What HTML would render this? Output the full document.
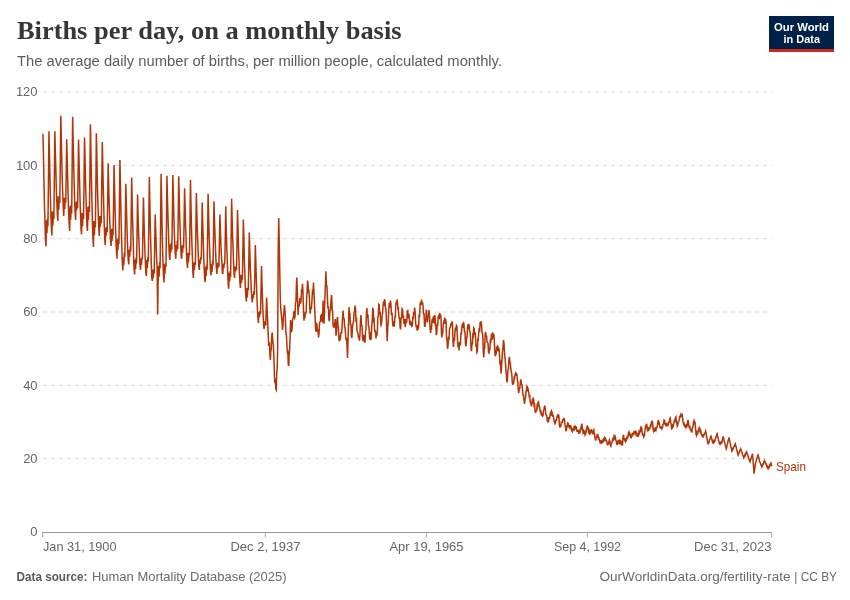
<!DOCTYPE html>
<html lang="en"><head><meta charset="utf-8"><title>Births per day, on a monthly basis</title>
<style>html,body{margin:0;padding:0;background:#fff}body{width:850px;height:600px;position:relative;overflow:hidden}</style></head>
<body>
<svg width="850" height="600" viewBox="0 0 850 600" style="display:block;position:absolute;left:0;top:0">
<rect width="850" height="600" fill="#fff"/>
<text x="17" y="38.6" font-family="'Liberation Serif', serif" font-weight="700" font-size="24.5" fill="#363636" textLength="384.5" lengthAdjust="spacingAndGlyphs">Births per day, on a monthly basis</text>
<text x="17" y="66.3" font-family="'Liberation Sans', sans-serif" font-size="14" fill="#5b5b5b" textLength="485" lengthAdjust="spacingAndGlyphs">The average daily number of births, per million people, calculated monthly.</text>
<rect x="769" y="16" width="65" height="36" fill="#002147"/>
<rect x="769" y="49" width="65" height="3" fill="#ce261e"/>
<text x="801.5" y="30.5" text-anchor="middle" font-family="'Liberation Sans', sans-serif" font-weight="700" font-size="11.5" fill="#fff" textLength="55" lengthAdjust="spacingAndGlyphs">Our World</text>
<text x="801.8" y="42.5" text-anchor="middle" font-family="'Liberation Sans', sans-serif" font-weight="700" font-size="11.5" fill="#fff" textLength="36.5" lengthAdjust="spacingAndGlyphs">in Data</text>
<line x1="43" x2="772" y1="458.67" y2="458.67" stroke="#d9d9d9" stroke-width="1" stroke-dasharray="4,4"/>
<line x1="43" x2="772" y1="385.33" y2="385.33" stroke="#d9d9d9" stroke-width="1" stroke-dasharray="4,4"/>
<line x1="43" x2="772" y1="312.00" y2="312.00" stroke="#d9d9d9" stroke-width="1" stroke-dasharray="4,4"/>
<line x1="43" x2="772" y1="238.67" y2="238.67" stroke="#d9d9d9" stroke-width="1" stroke-dasharray="4,4"/>
<line x1="43" x2="772" y1="165.33" y2="165.33" stroke="#d9d9d9" stroke-width="1" stroke-dasharray="4,4"/>
<line x1="43" x2="772" y1="92.00" y2="92.00" stroke="#d9d9d9" stroke-width="1" stroke-dasharray="4,4"/>
<text x="37.6" y="536.4" text-anchor="end" font-family="'Liberation Sans', sans-serif" font-size="13" fill="#666">0</text>
<text x="37.6" y="463.1" text-anchor="end" font-family="'Liberation Sans', sans-serif" font-size="13" fill="#666">20</text>
<text x="37.6" y="389.7" text-anchor="end" font-family="'Liberation Sans', sans-serif" font-size="13" fill="#666">40</text>
<text x="37.6" y="316.4" text-anchor="end" font-family="'Liberation Sans', sans-serif" font-size="13" fill="#666">60</text>
<text x="37.6" y="243.1" text-anchor="end" font-family="'Liberation Sans', sans-serif" font-size="13" fill="#666">80</text>
<text x="37.6" y="169.7" text-anchor="end" font-family="'Liberation Sans', sans-serif" font-size="13" fill="#666">100</text>
<text x="37.6" y="96.4" text-anchor="end" font-family="'Liberation Sans', sans-serif" font-size="13" fill="#666">120</text>
<line x1="42" x2="772" y1="532.5" y2="532.5" stroke="#999" stroke-width="1"/>
<line x1="42.7" x2="42.7" y1="532.5" y2="537.5" stroke="#a8a8a8" stroke-width="1"/>
<line x1="265.3" x2="265.3" y1="532.5" y2="537.5" stroke="#a8a8a8" stroke-width="1"/>
<line x1="426.3" x2="426.3" y1="532.5" y2="537.5" stroke="#a8a8a8" stroke-width="1"/>
<line x1="587.3" x2="587.3" y1="532.5" y2="537.5" stroke="#a8a8a8" stroke-width="1"/>
<line x1="771.6" x2="771.6" y1="532.5" y2="537.5" stroke="#a8a8a8" stroke-width="1"/>
<text x="43" y="550.5" text-anchor="start" font-family="'Liberation Sans', sans-serif" font-size="13" fill="#666" textLength="73.5" lengthAdjust="spacingAndGlyphs">Jan 31, 1900</text>
<text x="265.5" y="550.5" text-anchor="middle" font-family="'Liberation Sans', sans-serif" font-size="13" fill="#666" textLength="70" lengthAdjust="spacingAndGlyphs">Dec 2, 1937</text>
<text x="426.5" y="550.5" text-anchor="middle" font-family="'Liberation Sans', sans-serif" font-size="13" fill="#666" textLength="74" lengthAdjust="spacingAndGlyphs">Apr 19, 1965</text>
<text x="587.5" y="550.5" text-anchor="middle" font-family="'Liberation Sans', sans-serif" font-size="13" fill="#666" textLength="67" lengthAdjust="spacingAndGlyphs">Sep 4, 1992</text>
<text x="771.5" y="550.5" text-anchor="end" font-family="'Liberation Sans', sans-serif" font-size="13" fill="#666" textLength="77.5" lengthAdjust="spacingAndGlyphs">Dec 31, 2023</text>
<path d="M43.00,133.75 L43.49,157.85 L43.99,181.96 L44.48,206.51 L44.98,222.24 L45.47,239.88 L45.96,246.50 L46.46,220.61 L46.95,233.21 L47.45,218.87 L47.94,226.21 L48.43,182.85 L48.93,131.25 L49.42,152.46 L49.92,175.48 L50.41,197.67 L50.91,215.96 L51.40,227.74 L51.89,235.50 L52.39,211.46 L52.88,225.58 L53.38,212.27 L53.87,219.13 L54.36,177.75 L54.86,131.25 L55.35,152.90 L55.85,168.93 L56.34,190.12 L56.83,202.21 L57.33,214.19 L57.82,221.00 L58.32,196.32 L58.81,209.71 L59.30,197.00 L59.80,202.88 L60.29,163.44 L60.79,115.75 L61.28,138.36 L61.78,159.35 L62.27,180.10 L62.76,194.20 L63.26,208.22 L63.75,216.00 L64.25,197.94 L64.74,209.05 L65.23,197.29 L65.73,202.98 L66.22,174.13 L66.72,139.25 L67.21,159.25 L67.70,178.82 L68.20,199.15 L68.69,213.45 L69.19,224.47 L69.68,231.00 L70.17,206.16 L70.67,219.68 L71.16,205.08 L71.66,213.64 L72.15,167.31 L72.64,116.75 L73.14,141.39 L73.63,160.65 L74.13,182.50 L74.62,200.38 L75.12,212.41 L75.61,220.00 L76.10,202.25 L76.60,210.11 L77.09,201.35 L77.59,208.18 L78.08,176.02 L78.57,139.50 L79.07,161.90 L79.56,180.55 L80.06,201.08 L80.55,215.88 L81.04,229.12 L81.54,234.50 L82.03,212.98 L82.53,226.16 L83.02,213.00 L83.51,218.88 L84.01,181.81 L84.50,137.50 L85.00,156.31 L85.49,179.45 L85.99,197.93 L86.48,214.27 L86.97,226.68 L87.47,231.00 L87.96,206.65 L88.46,219.87 L88.95,206.05 L89.44,212.01 L89.94,172.13 L90.43,124.25 L90.93,149.93 L91.42,176.73 L91.91,201.05 L92.41,223.52 L92.90,238.15 L93.40,247.00 L93.89,220.97 L94.38,235.19 L94.88,221.19 L95.37,227.12 L95.87,184.23 L96.36,133.25 L96.86,156.46 L97.35,180.61 L97.84,200.70 L98.34,217.32 L98.83,229.15 L99.33,236.00 L99.82,215.92 L100.31,226.60 L100.81,215.92 L101.30,223.17 L101.80,182.90 L102.29,142.00 L102.78,164.19 L103.27,187.48 L103.76,207.68 L104.25,225.16 L104.74,239.59 L105.23,245.00 L105.72,227.70 L106.21,235.82 L106.70,226.69 L107.19,232.05 L107.68,200.30 L108.17,163.25 L108.66,184.26 L109.15,201.91 L109.64,217.26 L110.13,230.91 L110.62,242.24 L111.11,246.00 L111.60,228.83 L112.09,240.96 L112.58,230.11 L113.07,235.51 L113.56,202.64 L114.05,165.00 L114.54,186.69 L115.03,208.10 L115.52,224.91 L116.01,242.04 L116.50,252.12 L116.99,258.75 L117.48,239.24 L117.97,250.08 L118.46,237.65 L118.95,243.89 L119.44,202.65 L119.93,160.00 L120.42,184.52 L120.91,210.54 L121.40,231.34 L121.89,250.06 L122.38,263.08 L122.87,270.50 L123.36,257.25 L123.85,264.88 L124.34,252.61 L124.83,257.36 L125.32,222.18 L125.81,183.75 L126.30,202.59 L126.79,220.19 L127.28,238.44 L127.77,251.94 L128.26,260.33 L128.75,264.50 L129.24,249.65 L129.73,256.75 L130.22,246.38 L130.71,251.69 L131.20,215.71 L131.69,177.50 L132.17,202.10 L132.66,221.74 L133.15,239.61 L133.64,258.84 L134.13,269.76 L134.62,274.50 L135.11,259.49 L135.60,269.07 L136.09,257.41 L136.58,263.41 L137.07,232.41 L137.56,194.50 L138.05,214.07 L138.54,230.77 L139.03,243.37 L139.52,255.88 L140.01,264.89 L140.50,270.00 L140.99,258.76 L141.48,265.06 L141.97,257.34 L142.46,259.17 L142.95,229.02 L143.44,197.50 L143.93,217.59 L144.42,236.33 L144.91,250.72 L145.40,263.09 L145.89,273.35 L146.38,276.00 L146.87,260.13 L147.36,267.98 L147.85,257.26 L148.34,261.56 L148.83,219.67 L149.32,177.00 L149.81,200.07 L150.30,225.00 L150.79,244.68 L151.28,263.05 L151.77,277.63 L152.26,281.00 L152.75,269.48 L153.24,278.09 L153.73,270.32 L154.22,273.51 L154.71,243.88 L155.20,214.50 L155.69,229.82 L156.18,245.60 L156.67,258.50 L157.16,269.49 L157.65,314.50 L158.14,283.00 L158.63,266.03 L159.12,276.71 L159.61,262.16 L160.10,268.32 L160.59,224.11 L161.08,173.75 L161.57,198.19 L162.06,225.50 L162.55,247.16 L163.04,264.05 L163.53,278.06 L164.02,282.50 L164.51,264.26 L165.00,273.74 L165.49,263.37 L165.98,266.89 L166.47,224.99 L166.96,175.75 L167.45,197.86 L167.94,214.93 L168.43,230.96 L168.92,246.62 L169.41,256.69 L169.90,260.00 L170.39,244.23 L170.88,252.56 L171.37,242.45 L171.86,249.72 L172.35,214.48 L172.84,175.00 L173.33,193.68 L173.82,215.67 L174.31,232.20 L174.80,244.30 L175.29,253.96 L175.78,258.75 L176.27,244.92 L176.76,251.50 L177.25,241.13 L177.74,249.08 L178.23,213.97 L178.72,176.25 L179.21,196.16 L179.70,216.76 L180.19,230.44 L180.68,245.39 L181.17,255.93 L181.66,258.75 L182.15,245.61 L182.64,252.82 L183.13,244.53 L183.62,247.84 L184.11,220.32 L184.60,188.25 L185.09,206.43 L185.58,225.41 L186.07,239.41 L186.56,255.29 L187.05,263.43 L187.54,268.00 L188.03,252.87 L188.52,262.17 L189.01,252.90 L189.50,255.36 L189.99,221.27 L190.47,180.00 L190.96,203.53 L191.45,226.19 L191.94,244.77 L192.43,258.43 L192.92,272.86 L193.41,278.00 L193.90,262.28 L194.39,270.07 L194.88,263.05 L195.37,264.79 L195.86,231.14 L196.35,193.00 L196.84,212.38 L197.33,229.42 L197.82,243.12 L198.31,256.21 L198.80,266.37 L199.29,270.00 L199.78,259.66 L200.27,263.70 L200.76,257.42 L201.25,259.54 L201.74,231.98 L202.23,202.50 L202.72,222.67 L203.21,239.90 L203.70,255.22 L204.19,268.73 L204.68,279.67 L205.17,282.00 L205.66,266.77 L206.15,276.27 L206.64,265.25 L207.13,269.69 L207.62,234.23 L208.11,193.75 L208.60,213.18 L209.09,232.31 L209.58,247.62 L210.07,262.55 L210.56,272.21 L211.05,275.50 L211.54,264.38 L212.03,272.07 L212.52,260.43 L213.01,265.34 L213.50,236.44 L213.99,201.25 L214.48,220.07 L214.97,233.99 L215.46,247.75 L215.95,260.67 L216.44,268.65 L216.93,274.00 L217.42,262.85 L217.91,268.13 L218.40,263.37 L218.89,266.81 L219.38,242.86 L219.87,214.50 L220.36,227.40 L220.85,243.33 L221.34,254.41 L221.83,261.86 L222.32,272.56 L222.81,274.00 L223.30,264.35 L223.79,268.14 L224.28,262.94 L224.77,264.11 L225.26,236.69 L225.75,206.25 L226.24,228.01 L226.73,246.35 L227.22,259.35 L227.71,273.63 L228.20,284.69 L228.69,288.75 L229.18,272.81 L229.67,281.23 L230.16,270.92 L230.65,277.04 L231.14,237.33 L231.63,198.75 L232.12,217.99 L232.61,235.76 L233.10,249.13 L233.59,263.06 L234.08,274.53 L234.57,278.00 L235.06,266.49 L235.55,271.50 L236.04,267.02 L236.53,269.63 L237.02,242.49 L237.51,210.00 L238.00,227.14 L238.49,245.72 L238.98,259.64 L239.47,275.08 L239.96,283.18 L240.45,288.00 L240.94,274.87 L241.43,282.89 L241.92,276.63 L242.41,279.69 L242.90,249.36 L243.39,219.50 L243.88,237.78 L244.37,259.72 L244.86,273.90 L245.35,287.54 L245.84,295.76 L246.33,301.50 L246.82,288.00 L247.31,297.42 L247.80,288.09 L248.29,290.13 L248.78,265.30 L249.26,232.50 L249.77,249.84 L250.28,266.61 L250.78,277.03 L251.29,291.32 L251.80,297.27 L252.30,302.50 L252.81,294.18 L253.32,298.29 L253.82,290.93 L254.33,294.66 L254.84,272.58 L255.34,245.00 L255.86,262.79 L256.37,280.18 L256.89,296.59 L257.40,307.91 L257.92,317.54 L258.43,323.00 L258.95,311.96 L259.46,317.21 L259.98,310.98 L260.49,314.27 L261.01,290.87 L261.52,266.00 L261.95,282.16 L262.37,294.77 L262.79,307.58 L263.22,316.37 L263.64,325.24 L264.06,329.00 L264.48,321.72 L264.91,325.80 L265.33,321.08 L265.75,325.52 L266.18,311.88 L266.60,297.50 L267.14,309.62 L267.68,321.75 L268.21,333.88 L268.75,346.00 L269.12,342.61 L269.50,343.00 L269.95,355.47 L270.40,360.00 L270.86,350.29 L271.32,349.27 L271.79,335.36 L272.25,332.50 L272.82,341.47 L273.40,345.00 L273.90,357.44 L274.40,376.00 L274.88,383.09 L275.35,378.55 L275.82,389.08 L276.30,390.00 L276.73,373.32 L277.17,368.31 L277.60,352.00 L278.26,246.00 L278.75,218.00 L279.24,243.00 L279.75,270.25 L280.25,297.50 L280.77,309.01 L281.30,315.00 L281.90,319.91 L282.50,330.00 L282.98,325.48 L283.45,315.55 L283.92,313.03 L284.40,305.00 L285.00,311.26 L285.60,325.00 L286.03,333.99 L286.47,336.28 L286.90,345.00 L287.36,352.07 L287.82,351.46 L288.29,364.87 L288.75,366.00 L289.17,353.80 L289.58,351.07 L290.00,340.00 L290.60,320.00 L291.05,323.72 L291.50,332.00 L292.00,329.77 L292.50,319.75 L293.00,318.00 L293.38,317.29 L293.75,312.50 L294.17,311.12 L294.58,317.84 L295.00,317.00 L295.48,302.74 L295.95,301.67 L296.42,284.20 L296.90,277.50 L297.50,298.54 L298.10,315.00 L298.65,305.18 L299.20,306.65 L299.75,298.75 L300.18,298.63 L300.60,303.75 L301.08,300.33 L301.55,291.06 L302.02,291.71 L302.50,283.75 L303.00,292.99 L303.50,310.48 L304.00,320.60 L304.45,315.43 L304.90,317.95 L305.35,311.89 L305.80,313.96 L306.25,310.00 L306.67,297.46 L307.08,292.10 L307.50,280.60 L307.98,283.18 L308.45,291.51 L308.92,291.02 L309.40,297.50 L309.82,308.91 L310.25,313.75 L310.80,306.46 L311.35,309.19 L311.90,301.25 L312.43,291.50 L312.97,292.42 L313.50,282.50 L314.02,294.06 L314.55,305.62 L315.08,317.19 L315.60,328.75 L316.03,331.62 L316.47,323.57 L316.90,324.00 L317.43,332.19 L317.97,329.54 L318.50,337.50 L319.00,334.04 L319.50,323.15 L320.00,322.00 L320.42,321.50 L320.83,315.50 L321.25,315.00 L321.67,321.22 L322.08,316.05 L322.50,322.50 L323.10,300.60 L323.55,314.16 L324.00,323.75 L324.48,310.62 L324.95,297.50 L325.42,284.38 L325.90,271.25 L326.43,284.76 L326.97,286.42 L327.50,300.00 L327.98,308.60 L328.45,306.44 L328.92,319.51 L329.40,321.25 L329.95,311.08 L330.50,310.37 L331.05,299.90 L331.60,295.00 L332.10,306.96 L332.60,312.37 L333.10,325.00 L333.53,327.72 L333.97,322.65 L334.40,327.50 L334.80,326.46 L335.20,319.00 L335.60,323.89 L336.00,335.60 L336.53,332.81 L337.07,319.63 L337.60,317.00 L338.05,326.07 L338.50,327.54 L338.95,339.10 L339.40,341.25 L339.86,335.30 L340.32,339.92 L340.79,333.00 L341.25,332.50 L341.62,333.75 L342.00,328.00 L342.55,317.53 L343.10,310.60 L343.60,319.21 L344.10,318.05 L344.60,327.03 L345.10,327.77 L345.60,335.00 L346.05,340.21 L346.50,338.00 L347.00,345.82 L347.50,358.00 L348.00,340.97 L348.50,323.93 L349.00,306.90 L349.48,315.10 L349.97,314.57 L350.45,325.43 L350.93,324.06 L351.42,336.64 L351.90,338.00 L352.50,326.87 L353.10,322.50 L353.58,321.73 L354.05,312.25 L354.52,311.83 L355.00,305.60 L355.50,308.66 L356.00,320.11 L356.50,319.27 L357.00,330.36 L357.50,332.50 L357.98,333.00 L358.45,338.30 L358.92,336.21 L359.40,340.60 L359.93,335.61 L360.47,319.93 L361.00,315.00 L361.52,325.11 L362.05,325.70 L362.58,337.77 L363.10,341.25 L363.55,335.69 L364.00,336.00 L364.50,341.89 L365.00,341.90 L365.48,331.50 L365.95,329.14 L366.42,314.32 L366.90,308.00 L367.40,317.84 L367.90,314.49 L368.40,325.83 L368.90,326.68 L369.40,335.00 L369.86,339.72 L370.32,332.09 L370.79,340.14 L371.25,338.00 L371.75,325.89 L372.25,320.69 L372.75,308.75 L373.20,309.25 L373.65,320.44 L374.10,319.72 L374.55,329.74 L375.00,332.50 L375.48,330.17 L375.95,338.41 L376.42,332.86 L376.90,335.60 L377.36,331.77 L377.82,316.94 L378.29,316.37 L378.75,304.40 L379.21,304.90 L379.68,314.45 L380.14,311.90 L380.60,320.00 L381.05,325.20 L381.50,324.40 L382.03,316.49 L382.57,313.45 L383.10,305.60 L383.58,301.34 L384.05,305.99 L384.52,299.39 L385.00,300.60 L385.42,307.80 L385.83,308.45 L386.25,316.25 L386.75,331.25 L387.25,341.25 L387.75,326.80 L388.25,322.00 L388.75,310.00 L389.30,303.10 L389.85,307.76 L390.40,300.60 L390.92,303.84 L391.45,315.21 L391.98,312.43 L392.50,321.25 L392.98,326.40 L393.45,320.70 L393.92,326.73 L394.40,325.00 L394.86,316.50 L395.32,317.95 L395.79,304.38 L396.25,301.90 L396.67,304.73 L397.08,299.47 L397.50,302.50 L397.92,308.63 L398.33,308.28 L398.75,313.75 L399.21,319.54 L399.68,317.56 L400.14,327.90 L400.60,329.40 L401.10,318.21 L401.60,317.94 L402.10,308.75 L402.56,309.40 L403.02,317.82 L403.48,315.62 L403.94,323.25 L404.40,323.75 L404.86,319.07 L405.32,327.29 L405.79,318.86 L406.25,322.50 L406.75,321.95 L407.25,311.10 L407.75,310.60 L408.30,318.06 L408.85,313.69 L409.40,320.00 L409.90,324.93 L410.40,320.78 L410.90,325.75 L411.40,322.11 L411.90,326.25 L412.35,325.75 L412.80,316.54 L413.25,319.29 L413.70,312.03 L414.15,314.91 L414.60,307.50 L415.15,312.22 L415.70,323.79 L416.25,327.50 L416.71,325.23 L417.18,330.57 L417.64,324.70 L418.10,328.75 L418.60,327.81 L419.10,315.67 L419.60,316.13 L420.10,304.82 L420.60,301.90 L421.08,305.26 L421.55,299.47 L422.02,304.41 L422.50,302.50 L423.00,305.33 L423.50,314.44 L424.00,312.92 L424.50,325.05 L425.00,326.90 L425.42,319.25 L425.83,320.26 L426.25,310.60 L426.67,311.10 L427.08,321.42 L427.50,322.50 L428.00,316.35 L428.50,316.30 L429.00,310.00 L429.53,315.83 L430.07,327.91 L430.60,333.00 L431.08,327.60 L431.55,328.15 L432.02,319.98 L432.50,318.75 L432.92,322.82 L433.33,316.25 L433.75,321.25 L434.17,323.35 L434.58,315.13 L435.00,316.25 L435.42,325.29 L435.83,325.64 L436.25,335.00 L436.75,333.68 L437.25,324.44 L437.75,324.76 L438.25,316.61 L438.75,315.00 L439.21,319.26 L439.68,312.76 L440.14,317.60 L440.60,314.40 L441.03,318.68 L441.47,333.90 L441.90,337.50 L442.36,331.42 L442.82,332.12 L443.29,323.57 L443.75,322.00 L444.21,323.93 L444.68,317.50 L445.14,323.93 L445.60,318.75 L446.08,322.19 L446.55,337.88 L447.02,339.61 L447.50,348.75 L448.00,346.17 L448.50,336.60 L449.00,340.19 L449.50,328.79 L450.00,327.50 L450.52,327.00 L451.05,322.80 L451.58,325.53 L452.10,321.25 L452.57,325.51 L453.03,342.34 L453.50,346.90 L454.00,337.61 L454.50,340.89 L455.00,331.25 L455.48,327.70 L455.95,330.64 L456.42,325.47 L456.90,326.25 L457.50,339.98 L458.10,347.50 L458.58,343.30 L459.05,350.58 L459.52,341.94 L460.00,345.00 L460.48,344.09 L460.95,332.44 L461.42,334.79 L461.90,327.50 L462.42,323.69 L462.95,327.94 L463.48,321.76 L464.00,325.00 L464.50,332.57 L465.00,331.36 L465.50,344.40 L466.00,346.25 L466.52,338.16 L467.05,336.95 L467.58,327.06 L468.10,323.75 L468.58,329.06 L469.05,324.25 L469.52,330.75 L470.00,331.25 L470.50,336.14 L471.00,347.69 L471.50,351.25 L471.95,343.32 L472.40,344.66 L472.85,335.07 L473.30,335.98 L473.75,328.00 L474.21,328.77 L474.68,335.21 L475.14,332.20 L475.60,337.50 L476.03,346.88 L476.47,344.04 L476.90,352.50 L477.36,351.66 L477.82,339.53 L478.29,339.76 L478.75,332.50 L479.20,327.95 L479.65,332.00 L480.10,322.11 L480.55,325.97 L481.00,321.25 L481.50,323.78 L482.00,332.62 L482.50,333.75 L482.92,338.12 L483.33,352.39 L483.75,357.50 L484.21,348.77 L484.68,348.23 L485.14,334.02 L485.60,331.90 L486.08,336.79 L486.55,335.53 L487.02,342.00 L487.50,342.50 L488.00,343.19 L488.50,352.50 L489.00,353.00 L489.45,347.50 L489.90,350.21 L490.35,339.21 L490.80,342.65 L491.25,336.25 L491.75,333.57 L492.25,339.66 L492.75,332.26 L493.25,338.22 L493.75,333.75 L494.25,339.00 L494.75,350.97 L495.25,356.25 L495.70,350.40 L496.15,354.59 L496.60,346.50 L497.05,351.08 L497.50,346.00 L497.98,346.50 L498.45,351.48 L498.92,348.08 L499.40,352.50 L499.93,363.10 L500.47,362.32 L501.00,373.75 L501.55,366.60 L502.10,357.50 L502.57,350.33 L503.03,346.91 L503.50,340.00 L504.00,343.67 L504.50,352.64 L505.00,357.50 L505.48,362.91 L505.95,370.86 L506.42,374.92 L506.90,382.50 L507.40,379.43 L507.90,370.23 L508.40,368.96 L508.90,359.82 L509.40,356.90 L509.86,362.59 L510.32,362.83 L510.79,368.70 L511.25,371.25 L511.75,373.73 L512.25,382.25 L512.75,385.00 L513.20,382.18 L513.65,382.72 L514.10,377.69 L514.55,378.30 L515.00,375.00 L515.48,373.61 L515.95,375.71 L516.42,373.78 L516.90,374.40 L517.36,380.22 L517.83,382.43 L518.29,390.49 L518.75,393.00 L519.29,388.65 L519.83,388.35 L520.36,381.73 L520.90,379.40 L521.43,384.21 L521.97,384.52 L522.50,390.00 L523.02,395.38 L523.55,395.49 L524.08,401.15 L524.60,403.75 L525.06,398.80 L525.52,398.05 L525.98,391.17 L526.44,390.80 L526.90,386.25 L527.36,386.75 L527.83,391.43 L528.29,390.12 L528.75,392.50 L529.25,396.61 L529.75,396.07 L530.25,402.62 L530.75,402.67 L531.25,406.25 L531.71,404.88 L532.17,401.02 L532.64,401.77 L533.10,397.50 L533.60,399.46 L534.10,405.54 L534.60,404.75 L535.10,411.15 L535.60,413.00 L536.08,409.99 L536.57,411.44 L537.05,405.80 L537.53,406.74 L538.02,402.40 L538.50,401.90 L539.00,405.82 L539.50,406.14 L540.00,410.00 L540.50,412.03 L541.00,410.65 L541.50,415.75 L542.00,413.32 L542.50,416.25 L543.02,415.71 L543.55,410.12 L544.08,409.37 L544.60,405.60 L545.15,407.28 L545.70,414.00 L546.25,415.00 L546.71,415.50 L547.17,419.77 L547.64,419.05 L548.10,421.90 L548.58,421.40 L549.05,416.97 L549.52,418.82 L550.00,415.00 L550.52,413.34 L551.05,415.67 L551.58,411.30 L552.10,412.50 L552.65,416.53 L553.20,414.79 L553.75,418.75 L554.17,422.06 L554.58,420.84 L555.00,423.75 L555.48,423.25 L555.95,419.34 L556.42,420.95 L556.90,417.50 L557.43,415.58 L557.97,416.49 L558.50,414.40 L558.92,416.92 L559.33,424.26 L559.75,427.50 L560.29,425.39 L560.83,425.82 L561.36,422.19 L561.90,422.50 L562.42,422.22 L562.95,418.77 L563.48,420.51 L564.00,418.00 L564.50,419.82 L565.00,425.41 L565.50,427.33 L566.00,431.25 L566.44,429.81 L566.88,426.11 L567.31,426.28 L567.75,423.00 L568.30,423.54 L568.85,426.75 L569.40,427.50 L570.00,425.62 L570.60,425.60 L571.03,428.61 L571.47,428.18 L571.90,431.25 L572.40,431.79 L572.90,428.47 L573.40,430.28 L573.90,427.75 L574.40,429.02 L574.90,426.15 L575.40,426.25 L575.92,428.58 L576.45,427.86 L576.98,431.24 L577.50,431.25 L578.00,430.78 L578.50,432.52 L579.00,431.24 L579.50,432.92 L580.00,432.50 L580.48,428.93 L580.95,429.21 L581.42,425.09 L581.90,423.75 L582.50,429.04 L583.10,432.50 L583.60,431.26 L584.10,434.02 L584.60,432.50 L585.10,434.81 L585.60,433.75 L586.08,430.55 L586.55,431.17 L587.02,427.01 L587.50,425.60 L587.98,428.63 L588.45,428.35 L588.92,433.06 L589.40,433.75 L589.86,431.40 L590.33,432.44 L590.79,430.13 L591.25,430.00 L591.67,431.89 L592.08,431.79 L592.50,433.75 L592.92,433.77 L593.33,429.76 L593.75,429.40 L594.21,433.63 L594.67,434.11 L595.14,439.17 L595.60,440.60 L596.15,437.57 L596.70,437.25 L597.25,434.40 L597.79,434.52 L598.33,438.65 L598.86,437.97 L599.40,440.00 L599.90,441.71 L600.40,440.07 L600.90,442.54 L601.40,441.52 L601.90,443.00 L602.38,442.75 L602.85,440.44 L603.33,441.02 L603.80,438.22 L604.27,439.58 L604.75,437.50 L605.29,438.03 L605.83,440.54 L606.36,440.41 L606.90,442.50 L607.50,444.64 L608.10,444.40 L608.53,442.23 L608.97,442.30 L609.40,440.00 L609.90,441.36 L610.40,445.47 L610.90,446.25 L611.43,443.11 L611.97,442.67 L612.50,440.00 L613.00,438.63 L613.50,439.41 L614.00,436.69 L614.50,438.15 L615.00,436.25 L615.48,437.67 L615.95,441.01 L616.42,441.16 L616.90,444.40 L617.36,444.37 L617.83,441.70 L618.29,442.37 L618.75,440.60 L619.17,440.20 L619.58,443.53 L620.00,443.75 L620.42,441.84 L620.83,442.96 L621.25,441.25 L621.67,441.57 L622.08,445.12 L622.50,445.00 L623.10,435.60 L623.58,435.52 L624.05,439.30 L624.52,439.12 L625.00,441.25 L625.50,441.83 L626.00,439.23 L626.50,439.83 L627.00,437.25 L627.50,438.00 L628.00,436.90 L628.50,432.61 L629.00,431.90 L629.53,434.69 L630.07,434.25 L630.60,437.50 L631.10,437.72 L631.60,435.32 L632.10,435.79 L632.60,433.44 L633.10,433.75 L633.58,434.27 L634.05,431.09 L634.52,432.49 L635.00,431.25 L635.50,431.12 L636.00,434.14 L636.50,433.23 L637.00,435.92 L637.50,436.25 L638.00,434.45 L638.50,435.28 L639.00,431.82 L639.50,432.88 L640.00,431.25 L640.42,429.00 L640.83,430.06 L641.25,427.50 L641.75,428.53 L642.25,433.22 L642.75,435.00 L643.30,434.55 L643.85,436.84 L644.40,435.60 L645.00,430.00 L645.50,426.44 L646.00,426.83 L646.50,423.75 L646.92,425.46 L647.33,429.74 L647.75,430.60 L648.20,429.08 L648.65,430.77 L649.10,427.61 L649.55,429.45 L650.00,427.50 L650.45,425.44 L650.90,426.03 L651.35,422.62 L651.80,422.90 L652.25,420.60 L652.67,423.65 L653.10,429.40 L653.58,431.03 L654.05,429.30 L654.52,431.04 L655.00,430.60 L655.48,428.91 L655.95,430.08 L656.42,427.38 L656.90,427.50 L657.40,425.64 L657.90,421.73 L658.40,420.00 L658.85,423.53 L659.30,423.20 L659.75,426.90 L660.21,427.57 L660.67,426.03 L661.12,428.46 L661.58,426.74 L662.04,428.74 L662.50,427.50 L663.03,424.36 L663.57,423.61 L664.10,420.00 L664.60,420.61 L665.10,424.47 L665.60,425.00 L666.08,424.33 L666.55,426.23 L667.02,424.36 L667.50,425.60 L668.00,425.51 L668.50,422.37 L669.00,422.50 L669.42,421.96 L669.83,418.55 L670.25,418.00 L670.70,422.13 L671.15,424.04 L671.60,428.75 L672.14,428.50 L672.67,425.50 L673.21,426.27 L673.75,423.75 L674.29,420.75 L674.83,421.30 L675.36,417.91 L675.90,416.90 L676.35,421.00 L676.80,422.50 L677.25,426.25 L677.75,425.23 L678.25,421.97 L678.75,421.25 L679.17,420.20 L679.58,416.96 L680.00,416.25 L680.48,416.65 L680.95,414.44 L681.42,415.52 L681.90,413.75 L682.43,416.48 L682.97,421.66 L683.50,423.75 L684.00,423.30 L684.50,426.44 L685.00,426.25 L685.48,425.67 L685.95,427.27 L686.42,425.36 L686.90,426.25 L687.40,424.58 L687.90,420.00 L688.40,421.84 L688.90,426.36 L689.40,427.50 L689.90,426.88 L690.40,430.50 L690.90,428.82 L691.40,431.73 L691.90,431.90 L692.42,427.59 L692.95,427.25 L693.48,421.97 L694.00,420.60 L694.50,422.97 L695.00,422.50 L695.50,427.76 L696.00,434.40 L696.50,435.48 L697.00,432.53 L697.50,433.75 L697.98,432.78 L698.45,429.76 L698.92,430.32 L699.40,427.50 L699.86,428.38 L700.33,432.02 L700.79,431.39 L701.25,433.75 L701.71,435.24 L702.17,434.97 L702.64,436.65 L703.10,436.90 L703.60,435.01 L704.10,435.03 L704.60,433.09 L705.10,432.92 L705.60,431.25 L706.10,433.43 L706.60,436.81 L707.10,438.77 L707.60,442.13 L708.10,444.40 L708.58,442.27 L709.07,442.32 L709.55,439.58 L710.03,439.33 L710.52,436.92 L711.00,436.25 L711.44,438.15 L711.88,438.82 L712.31,441.55 L712.75,442.50 L713.20,441.65 L713.65,442.47 L714.10,440.79 L714.55,441.56 L715.00,440.60 L715.52,438.15 L716.05,437.51 L716.58,434.67 L717.10,433.75 L717.56,436.36 L718.02,437.26 L718.48,440.44 L718.94,441.33 L719.40,443.75 L719.90,444.30 L720.40,442.67 L720.90,443.47 L721.40,442.07 L721.90,442.50 L722.50,439.88 L723.10,436.25 L723.62,437.96 L724.15,441.08 L724.67,442.19 L725.20,445.29 L725.73,446.25 L726.25,448.75 L726.71,447.49 L727.17,444.21 L727.62,443.71 L728.08,440.62 L728.54,439.82 L729.00,437.50 L729.48,439.51 L729.97,442.38 L730.45,444.02 L730.93,447.27 L731.42,448.45 L731.90,451.25 L732.38,450.73 L732.86,448.36 L733.34,448.38 L733.81,446.57 L734.29,446.51 L734.77,444.53 L735.25,443.75 L735.73,445.91 L736.20,447.04 L736.67,449.71 L737.15,450.78 L737.62,453.52 L738.10,455.00 L738.60,453.17 L739.10,453.09 L739.60,450.86 L740.10,450.60 L740.60,448.75 L741.12,449.76 L741.65,452.18 L742.17,452.61 L742.70,455.32 L743.23,456.10 L743.75,458.00 L744.21,457.31 L744.67,455.35 L745.12,455.68 L745.58,453.25 L746.04,453.41 L746.50,451.90 L747.00,452.91 L747.50,455.04 L748.00,455.57 L748.50,458.19 L749.00,458.58 L749.50,461.09 L750.00,461.90 L750.50,459.76 L751.00,459.41 L751.50,456.35 L752.00,455.79 L752.50,453.75 L753.10,461.25 L753.55,466.75 L754.00,473.75 L754.53,470.30 L755.07,465.69 L755.60,462.50 L756.10,461.49 L756.60,459.10 L757.10,458.31 L757.60,455.81 L758.10,455.00 L758.58,457.16 L759.05,458.18 L759.52,461.39 L760.00,462.50 L760.48,463.25 L760.95,465.08 L761.42,465.20 L761.90,466.90 L762.40,466.18 L762.90,463.77 L763.40,463.82 L763.90,461.49 L764.40,460.60 L764.86,462.06 L765.33,462.20 L765.79,463.96 L766.25,463.93 L766.71,466.38 L767.17,466.06 L767.64,468.01 L768.10,468.75 L768.58,467.07 L769.07,467.50 L769.55,465.35 L770.03,465.58 L770.52,463.44 L771.00,463.00 L771.45,465.02 L771.90,466.25" fill="none" stroke="#B13507" stroke-width="1.5" stroke-linejoin="miter" stroke-linecap="butt"/>
<text x="776" y="471" font-family="'Liberation Sans', sans-serif" font-size="12.5" fill="#B13507" textLength="30" lengthAdjust="spacingAndGlyphs">Spain</text>
<text x="16.5" y="580.7" font-family="'Liberation Sans', sans-serif" font-size="13" fill="#5b5b5b"><tspan font-weight="700" textLength="71" lengthAdjust="spacingAndGlyphs">Data source:</tspan><tspan x="92" fill="#6a6a6a" textLength="194.5" lengthAdjust="spacingAndGlyphs">Human Mortality Database (2025)</tspan></text>
<text y="580.7" font-family="'Liberation Sans', sans-serif" font-size="13" fill="#6a6a6a"><tspan x="599.5" textLength="191" lengthAdjust="spacingAndGlyphs">OurWorldinData.org/fertility-rate</tspan><tspan x="794.3" textLength="42.7" lengthAdjust="spacingAndGlyphs">| CC BY</tspan></text>
</svg>
</body></html>
